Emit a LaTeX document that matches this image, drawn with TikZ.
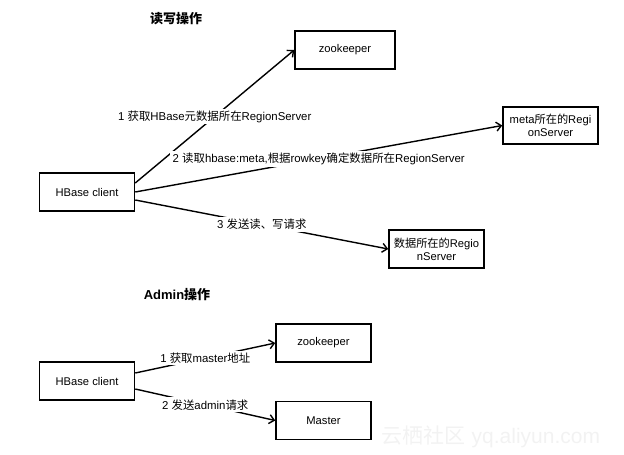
\documentclass[tikz,border=0pt]{standalone}
\usepackage{fontspec}
\setmainfont{Liberation Sans}
\newfontfamily\cjk{Noto Sans CJK SC}
\usepackage{xcolor}
\usetikzlibrary{positioning,arrows.meta}

\begin{document}
\begin{tikzpicture}[x=1pt,y=-1pt,
    box/.style={draw,line width=1.5pt,minimum width=95pt,minimum height=38pt,inner xsep=1pt,align=center,font=\fontsize{11.2}{13}\selectfont},
    lbl/.style={fill=white,inner xsep=3pt,inner ysep=2pt,font=\fontsize{11.4}{13}\selectfont},
    title/.style={font=\bfseries\fontsize{13}{15}\selectfont},
    link/.style={line width=1.4pt,-{Straight Barb[length=5pt,width=9pt,line width=1.4pt]}}]
    \useasboundingbox (0,0) rectangle (624,455);
    % read / write part
    \node[title] (rwtitle) at (176,19) {\cjk 读写操作};
    \node[box] (hbc) at (87,192) {HBase client};
    \node[box,minimum width=100pt] (zk) at (345,50) {zookeeper};
    \node[box,minimum height=37pt] (metars) at (550.5,125.5) {meta{\cjk 所在的}Regi\\onServer};
    \node[box] (datars) at (436.5,249) {{\cjk 数据所在的}Regio\\nServer};
    \draw[link] ([yshift=9pt]hbc.east) -- node[lbl] {1 {\cjk 获取}HBase{\cjk 元数据所在}RegionServer} (zk.west);
    \draw[link] (hbc.east) -- node[lbl] {2 {\cjk 读取}hbase:meta,{\cjk 根据}rowkey{\cjk 确定数据所在}RegionServer} (metars.west);
    \draw[link] ([yshift=-8pt]hbc.east) -- node[lbl] {3 {\cjk 发送读、写请求}} (datars.west);
    % admin part
    \node[title] (admtitle) at (177,295) {Admin{\cjk 操作}};
    \node[box] (hbc2) at (87,381) {HBase client};
    \node[box] (zk2) at (323.5,343) {zookeeper};
    \node[box,below=38pt of zk2] (mst) {Master};
    \draw[link] ([yshift=8pt]hbc2.east) -- node[lbl] {1 {\cjk 获取}master{\cjk 地址}} (zk2.west);
    \draw[link] ([yshift=-8pt]hbc2.east) -- node[lbl] {2 {\cjk 发送}admin{\cjk 请求}} (mst.west);
    % watermark
    \node[text=gray!10,font=\fontsize{21}{24}\selectfont] (wmark) at (491,437) {{\cjk 云栖社区} yq.aliyun.com};
\end{tikzpicture}
\end{document}
